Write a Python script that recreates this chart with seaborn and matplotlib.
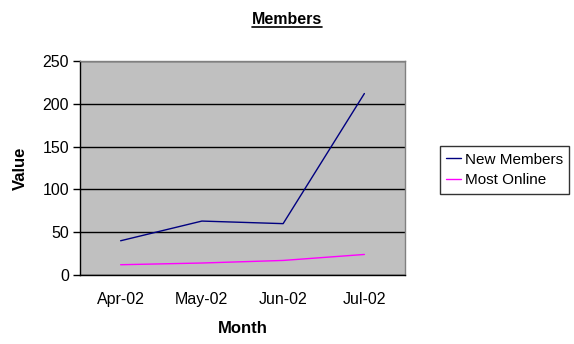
import matplotlib
matplotlib.use("Agg")
import matplotlib.pyplot as plt
import seaborn as sns
import pandas as pd
from matplotlib.lines import Line2D

months = ["Apr-02", "May-02", "Jun-02", "Jul-02"]
new_members = [40, 63, 60, 212]
most_online = [12, 14, 17, 24]

df = pd.DataFrame({
    "x": list(range(len(months))) * 2,
    "Value": new_members + most_online,
    "Series": ["New Members"] * len(months) + ["Most Online"] * len(months),
})

sns.set_style("white")
plt.rcParams["font.family"] = ["Liberation Sans", "DejaVu Sans"]
plt.rcParams["text.color"] = "black"
plt.rcParams["axes.labelcolor"] = "black"
plt.rcParams["xtick.color"] = "black"
plt.rcParams["ytick.color"] = "black"

fig = plt.figure(figsize=(5.74, 3.44), dpi=100)
ax = fig.add_axes([80/574, 69/344, 325/574, 214/344])
ax.set_facecolor("#C0C0C0")

sns.lineplot(data=df, x="x", y="Value", hue="Series",
             palette={"New Members": "#000080", "Most Online": "#FF00FF"},
             linewidth=1.0, ax=ax, legend=False)

ax.set_xlim(-0.5, len(months) - 0.5)
ax.set_ylim(0, 250)
ax.set_yticks([0, 50, 100, 150, 200, 250])
ax.yaxis.grid(True, color="black", linewidth=1)
ax.set_axisbelow(True)
ax.set_xticks(range(len(months)))
ax.set_xticklabels(months)
ax.set_xticks([i - 0.5 for i in range(len(months) + 1)], minor=True)
ax.tick_params(axis="x", which="major", length=0, labelsize=11.5, pad=12, colors="black")
ax.tick_params(axis="x", which="minor", length=5, width=1, color="black", direction="out")
ax.tick_params(axis="y", length=5, width=1, color="black", labelcolor="black",
               direction="out", labelsize=11.5, left=True, pad=3)

for s in ["top", "right"]:
    ax.spines[s].set_color("#808080")
    ax.spines[s].set_linewidth(1)
for s in ["left", "bottom"]:
    ax.spines[s].set_color("black")
    ax.spines[s].set_linewidth(1)

ax.set_xlabel("Month", fontsize=12, fontweight="bold", labelpad=10, color="black")
ax.set_ylabel("Value", fontsize=12, fontweight="bold", labelpad=10, color="black")

handles = [Line2D([0], [0], color="#000080", lw=1),
           Line2D([0], [0], color="#FF00FF", lw=1)]
leg = fig.legend(handles, ["New Members", "Most Online"],
                 loc="center left", bbox_to_anchor=(440/574, 1 - 170/344),
                 frameon=True, fancybox=False, edgecolor="black",
                 fontsize=11, handlelength=1.0, handletextpad=0.25,
                 borderpad=0.4, borderaxespad=0, labelspacing=0.45)
leg.get_frame().set_linewidth(1)
for txt in leg.get_texts():
    txt.set_color("black")

t = fig.text(0.5, 1 - 20/344, "Members", ha="center", va="center",
             fontsize=11.5, fontweight="bold", color="black")
fig.canvas.draw()
bb = t.get_window_extent().transformed(fig.transFigure.inverted())
fig.add_artist(Line2D([bb.x0, bb.x1], [bb.y0 + 0.002, bb.y0 + 0.002],
                      transform=fig.transFigure, color="black", lw=1.2))

fig.savefig("out.png", dpi=100, facecolor="white")
